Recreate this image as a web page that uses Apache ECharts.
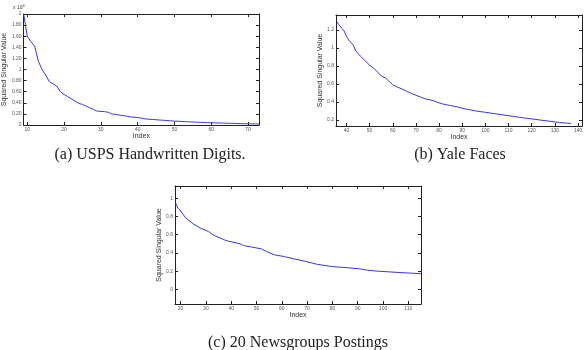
<!DOCTYPE html>
<html>
<head>
<meta charset="utf-8">
<script src="https://cdn.jsdelivr.net/npm/echarts@6/dist/echarts.min.js"></script>
<style>
  html, body { margin: 0; padding: 0; background: #fff; }
  #chart { width: 587px; height: 350px; }
</style>
</head>
<body>
<div id="chart"></div>
<script>
// (a) USPS Handwritten Digits (values x 10^4)
var uspsIndex = [9, 10, 11, 12, 13, 14, 15, 16, 17, 18, 19, 20, 21, 22, 23, 24, 25, 26, 27, 28, 29,
  30, 31, 32, 33, 34, 35, 36, 37, 38, 39, 40, 41, 42, 43, 44, 45, 46, 47, 48, 49, 50,
  51, 52, 53, 54, 55, 56, 57, 58, 59, 60, 61, 62, 63, 64, 65, 66, 67, 68, 69, 70, 71, 72, 73];
var uspsValue = [2.00, 1.60, 1.50, 1.42, 1.15, 1.00, 0.90, 0.78, 0.74, 0.70, 0.60, 0.55, 0.51, 0.47,
  0.43, 0.39, 0.37, 0.34, 0.31, 0.28, 0.25, 0.245, 0.24, 0.23, 0.20, 0.19, 0.18, 0.17, 0.16,
  0.145, 0.14, 0.135, 0.125, 0.11, 0.105, 0.10, 0.095, 0.09, 0.085, 0.08, 0.075, 0.07, 0.067,
  0.064, 0.06, 0.057, 0.054, 0.051, 0.048, 0.045, 0.043, 0.041, 0.039, 0.037, 0.035, 0.033,
  0.031, 0.029, 0.027, 0.025, 0.023, 0.021, 0.02, 0.019, 0.018];
var uspsXTicks = [10, 20, 30, 40, 50, 60, 70];
var uspsYTicks = [0, 0.2, 0.4, 0.6, 0.8, 1, 1.2, 1.4, 1.6, 1.8, 2];
var uspsYLabels = ['0', '0.20', '0.40', '0.60', '0.80', '1', '1.20', '1.40', '1.60', '1.80', '2'];

// (b) Yale Faces
var yaleIndex = [36, 37, 38, 39, 40, 41, 42, 43, 44, 45, 46, 48, 50, 52, 54, 55, 57, 58, 60, 62, 64,
  66, 68, 70, 72, 74, 76, 78, 80, 82, 85, 88, 90, 93, 96, 100, 104, 108, 112, 116, 120, 124,
  128, 132, 135, 137];
var yaleValue = [1.29, 1.25, 1.22, 1.19, 1.13, 1.09, 1.06, 1.03, 0.97, 0.94, 0.91, 0.86, 0.81, 0.77,
  0.72, 0.69, 0.665, 0.64, 0.59, 0.565, 0.545, 0.52, 0.495, 0.475, 0.455, 0.435, 0.425, 0.41,
  0.39, 0.375, 0.36, 0.345, 0.33, 0.315, 0.30, 0.285, 0.27, 0.255, 0.24, 0.225, 0.212, 0.198,
  0.185, 0.172, 0.165, 0.16];
var yaleXTicks = [40, 50, 60, 70, 80, 90, 100, 110, 120, 130, 140];
var yaleYTicks = [0.2, 0.4, 0.6, 0.8, 1, 1.2];
var yaleYLabels = ['0.2', '0.4', '0.6', '0.8', '1', '1.2'];

// (c) 20 Newsgroups Postings
var newsIndex = [18, 19, 20, 22, 25, 28, 31, 32, 33, 36, 38, 42, 44, 45, 48, 52, 54, 57, 61, 65, 69,
  74, 80, 86, 91, 94, 98, 102, 106, 110, 115];
var newsValue = [0.95, 0.89, 0.86, 0.785, 0.72, 0.67, 0.635, 0.615, 0.595, 0.56, 0.535, 0.51, 0.495,
  0.48, 0.465, 0.444, 0.415, 0.38, 0.36, 0.334, 0.31, 0.275, 0.25, 0.238, 0.225, 0.21, 0.2,
  0.193, 0.186, 0.18, 0.172];
var newsXTicks = [20, 30, 40, 50, 60, 70, 80, 90, 100, 110];
var newsYTicks = [0, 0.2, 0.4, 0.6, 0.8, 1];
var newsYLabels = ['0', '0.2', '0.4', '0.6', '0.8', '1'];

var captions = ['(a) USPS Handwritten Digits.', '(b) Yale Faces', '(c) 20 Newsgroups Postings'];

var axisColor = '#222';
var lineColor = '#3838dc';
var labelFont = 'Liberation Sans, Arial, sans-serif';
var captionFont = 'Liberation Serif, serif';

function pairs(xs, ys) {
  return xs.map(function (x, i) { return [x, ys[i]]; });
}

function xAxes(grid, min, max, ticks) {
  return [{
    type: 'value', gridIndex: grid, min: min, max: max, position: 'bottom',
    name: 'Index', nameLocation: 'middle', nameGap: 8,
    nameTextStyle: { fontSize: 7, color: '#333', fontFamily: labelFont },
    axisLine: { show: true, onZero: false, lineStyle: { color: axisColor, width: 1 } },
    axisTick: { show: true, inside: true, length: 3, customValues: ticks, lineStyle: { color: axisColor } },
    axisLabel: { show: true, customValues: ticks, fontSize: 5, color: '#555', margin: 2, fontFamily: labelFont },
    splitLine: { show: false }
  }, {
    type: 'value', gridIndex: grid, min: min, max: max, position: 'top',
    axisLine: { show: true, onZero: false, lineStyle: { color: axisColor, width: 1 } },
    axisTick: { show: true, inside: true, length: 3, customValues: ticks, lineStyle: { color: axisColor } },
    axisLabel: { show: false },
    splitLine: { show: false }
  }];
}

function yAxes(grid, min, max, ticks, labels, gap) {
  return [{
    type: 'value', gridIndex: grid, min: min, max: max, position: 'left',
    name: 'Squared Singular Value', nameLocation: 'middle', nameGap: gap,
    nameTextStyle: { fontSize: 7, color: '#333', fontFamily: labelFont },
    axisLine: { show: true, onZero: false, lineStyle: { color: axisColor, width: 1 } },
    axisTick: { show: true, inside: true, length: 3, customValues: ticks, lineStyle: { color: axisColor } },
    axisLabel: {
      show: true, customValues: ticks, fontSize: 5, color: '#555', margin: 2, fontFamily: labelFont,
      formatter: function (v) {
        var i = ticks.findIndex(function (t) { return Math.abs(t - v) < 1e-6; });
        return i >= 0 ? labels[i] : '';
      }
    },
    splitLine: { show: false }
  }, {
    type: 'value', gridIndex: grid, min: min, max: max, position: 'right',
    axisLine: { show: true, onZero: false, lineStyle: { color: axisColor, width: 1 } },
    axisTick: { show: true, inside: true, length: 3, customValues: ticks, lineStyle: { color: axisColor } },
    axisLabel: { show: false },
    splitLine: { show: false }
  }];
}

var chart = echarts.init(document.getElementById('chart'), null, { renderer: 'canvas' });

var option = {
  animation: false,
  backgroundColor: '#fff',
  grid: [
    { left: 13, top: 14, width: 246, height: 111 },
    { left: 336, top: 15, width: 246, height: 111 },
    { left: 175, top: 186, width: 246, height: 118 }
  ],
  xAxis: [].concat(
    xAxes(0, 9, 73, uspsXTicks),
    xAxes(1, 35.5, 141.7, yaleXTicks),
    xAxes(2, 17.8, 115, newsXTicks)
  ),
  yAxis: [].concat(
    yAxes(0, 0, 2, uspsYTicks, uspsYLabels, 8),
    yAxes(1, 0.133, 1.367, yaleYTicks, yaleYLabels, 8),
    yAxes(2, -0.16, 1.134, newsYTicks, newsYLabels, 8)
  ),
  title: [
    { text: captions[0], left: 145, top: 142, textAlign: 'center',
      textStyle: { fontSize: 16, fontWeight: 'normal', color: '#222', fontFamily: captionFont } },
    { text: captions[1], left: 455, top: 142, textAlign: 'center',
      textStyle: { fontSize: 16, fontWeight: 'normal', color: '#222', fontFamily: captionFont } },
    { text: captions[2], left: 293, top: 330, textAlign: 'center',
      textStyle: { fontSize: 16, fontWeight: 'normal', color: '#222', fontFamily: captionFont } }
  ],
  graphic: [{
    type: 'text', left: 13, top: 4,
    style: {
      text: 'x 10{s|4}', fontSize: 5, fill: '#333', fontFamily: labelFont,
      rich: { s: { fontSize: 4, verticalAlign: 'top', padding: [0, 0, 3, 0] } }
    }
  }],
  series: [
    { type: 'line', xAxisIndex: 0, yAxisIndex: 0, data: pairs(uspsIndex, uspsValue),
      showSymbol: false, lineStyle: { color: lineColor, width: 1 } },
    { type: 'line', xAxisIndex: 2, yAxisIndex: 2, data: pairs(yaleIndex, yaleValue),
      showSymbol: false, lineStyle: { color: lineColor, width: 1 } },
    { type: 'line', xAxisIndex: 4, yAxisIndex: 4, data: pairs(newsIndex, newsValue),
      showSymbol: false, lineStyle: { color: lineColor, width: 1 } }
  ]
};

chart.setOption(option);
</script>
</body>
</html>
